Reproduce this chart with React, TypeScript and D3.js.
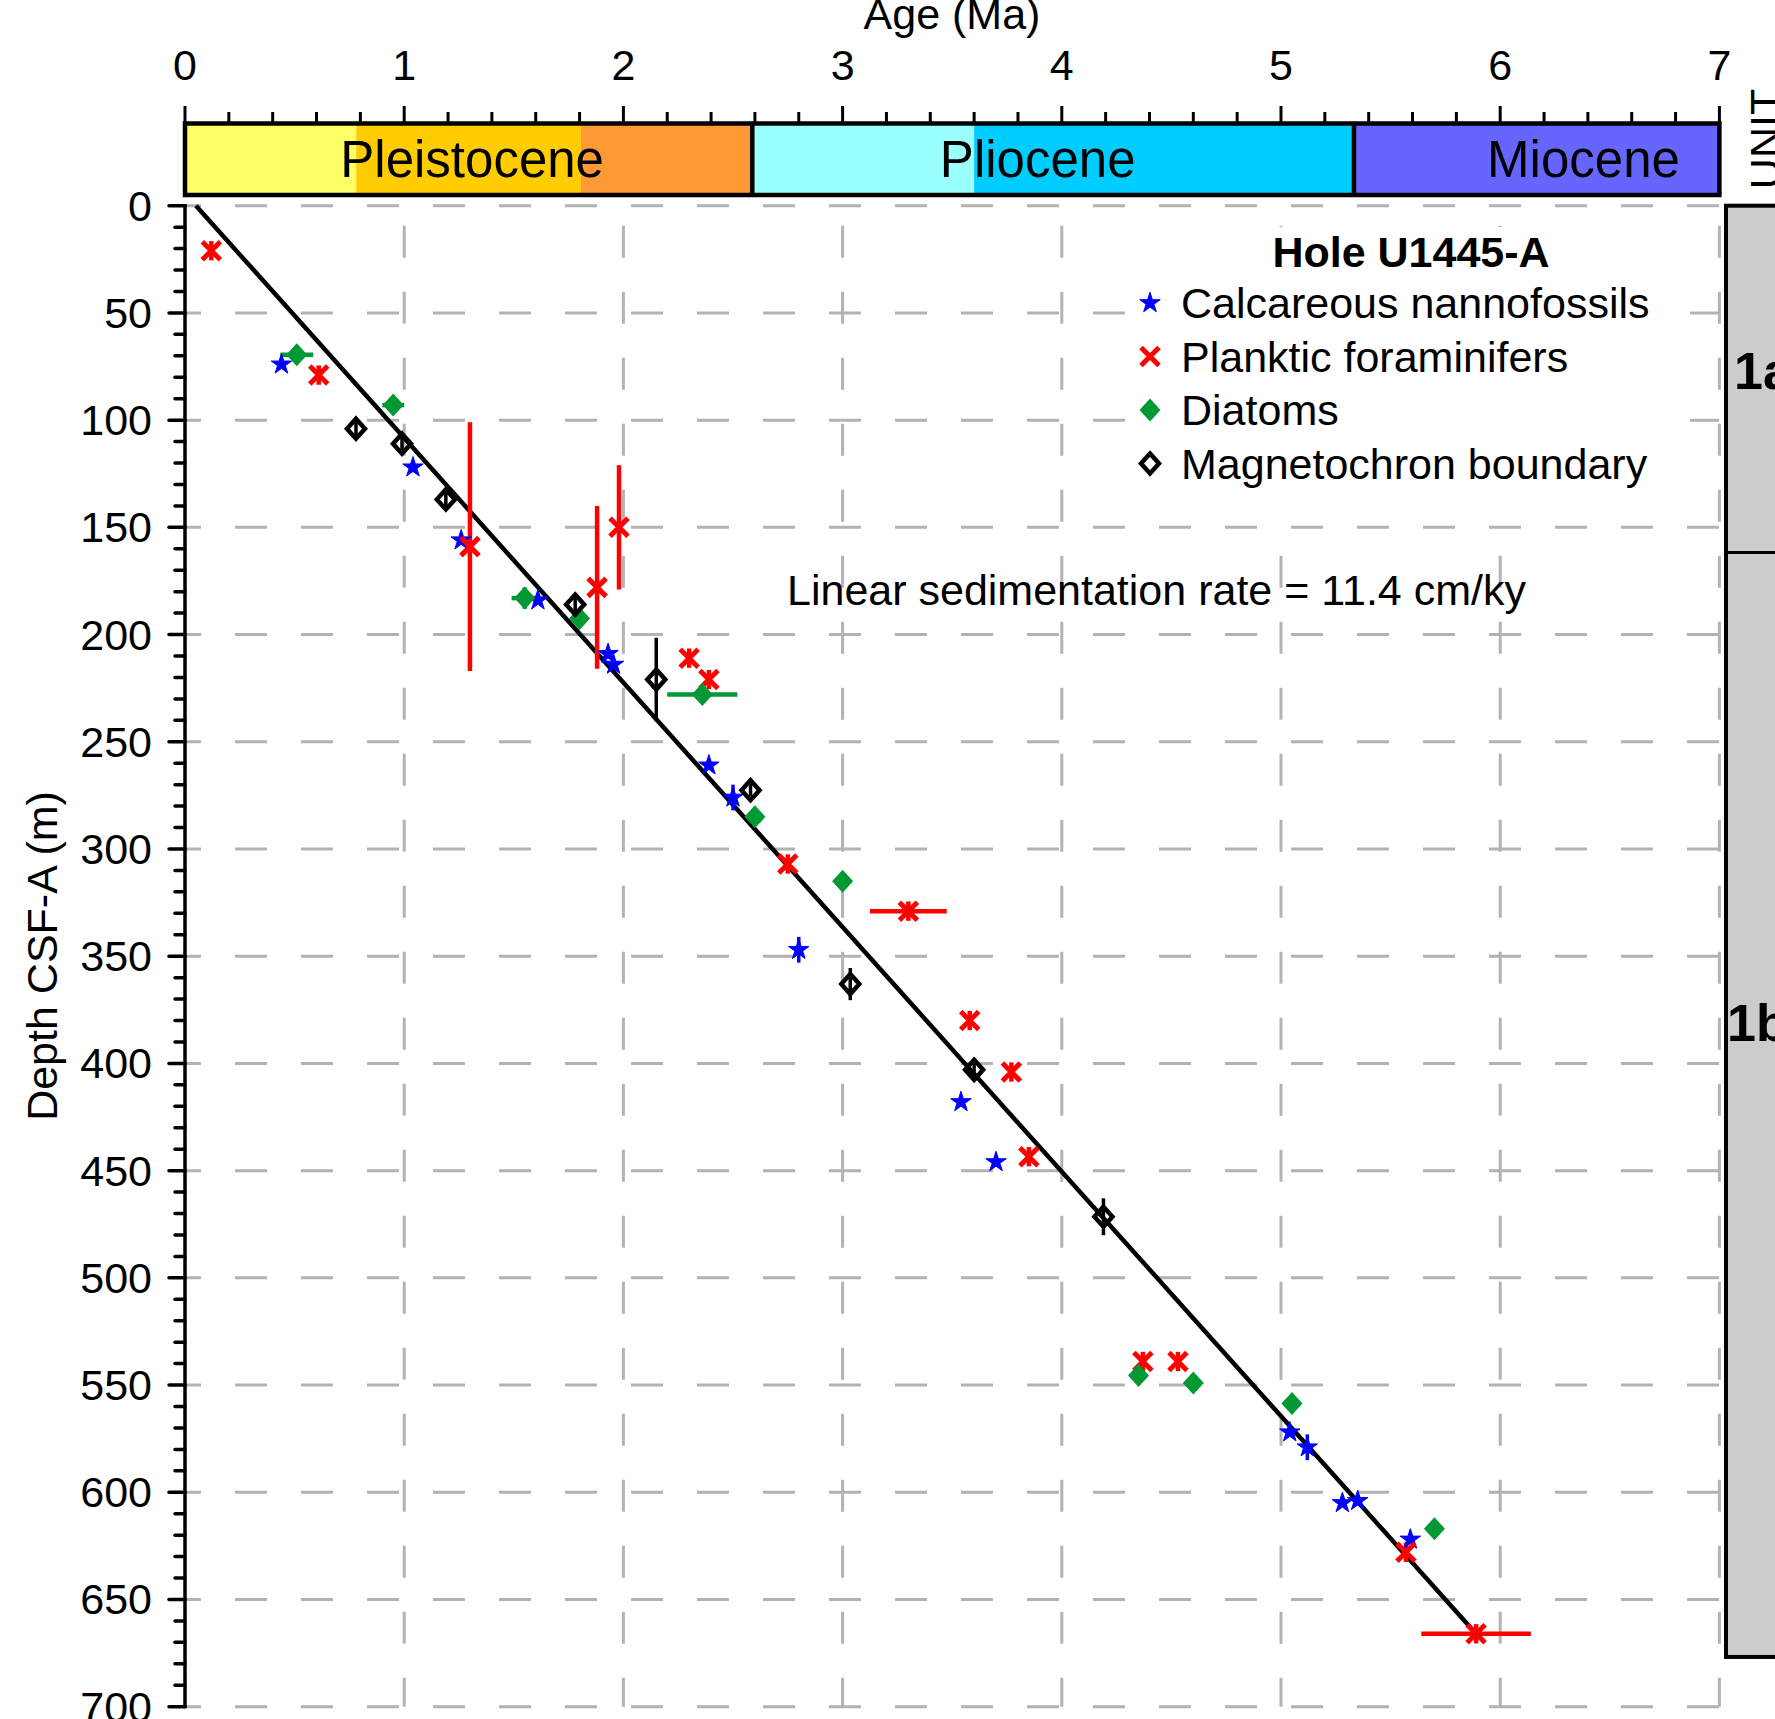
import React from 'react';
import * as d3 from 'd3';

// axis ticks
const ageTicks = [0, 1, 2, 3, 4, 5, 6, 7];
const depthTicks = [0, 50, 100, 150, 200, 250, 300, 350, 400, 450, 500, 550, 600, 650, 700];

// geologic time scale (Ma)
const epochNames = ['Pleistocene', 'Pliocene', 'Miocene'];
const epochBounds = [0, 2.588, 5.333, 7];
const epochLabelAges = [1.31, 3.89, 6.38];
const stageBounds = [0, 0.781, 1.806, 2.588, 3.6, 5.333, 7];

// lithologic units (m)
const unitNames = ['1a', '1b'];
const unitBounds = [0, 161.7, 676.8];

// datums: [age Ma, depth m, age error, depth error]
const nannofossils = [
  [0.44, 74, 0, 0], [1.04, 122, 0, 0], [1.26, 156, 0, 0], [1.61, 184, 0, 0],
  [1.93, 209, 0, 0], [1.955, 214, 0, 0], [2.39, 261, 0, 0], [2.5, 276, 0, 6],
  [2.8, 347, 0, 6], [3.54, 418, 0, 0], [3.7, 446, 0, 0], [5.04, 572, 0, 0],
  [5.12, 579, 0, 6], [5.28, 605, 0, 0], [5.35, 604, 0, 0], [5.59, 622, 0, 0],
];
const foraminifers = [
  [0.12, 21, 0, 4.5], [0.61, 79, 0, 4.5], [1.3, 159, 0, 58], [1.88, 178, 0, 38],
  [1.98, 150, 0, 29], [2.3, 211, 0, 4.5], [2.39, 221, 0, 4.5], [2.75, 307, 0, 4.5],
  [3.3, 329, 0.175, 4.5], [3.58, 380, 0, 4.5], [3.77, 404, 0, 4.5], [3.85, 443.5, 0, 4.5],
  [4.37, 539, 0, 4.5], [4.53, 539, 0, 4.5], [5.57, 628, 0, 4.5], [5.89, 666, 0.25, 4.5],
];
const diatoms = [
  [0.51, 69.5, 0.075, 0], [0.95, 93, 0.05, 0], [1.55, 183, 0.06, 5], [1.8, 192.5, 0, 0],
  [2.36, 228, 0.16, 0], [2.6, 285, 0, 0], [3.0, 315, 0, 0], [4.35, 545.5, 0, 0],
  [4.6, 549, 0, 0], [5.05, 558.6, 0, 0], [5.7, 617, 0, 0],
];
const magnetochrons = [
  [0.78, 104, 0, 3], [0.99, 111, 0, 3], [1.19, 137, 0, 3], [1.78, 186, 0, 3],
  [2.15, 221, 0, 19.5], [2.58, 272.6, 0, 3], [3.035, 363, 0, 7.5], [3.6, 403, 0, 3],
  [4.19, 471.5, 0, 8.6],
];

// linear sedimentation rate line
const lineAges = [0.05, 5.89];
const lineDepths = [0, 666];

const legendLabels = ['Calcareous nannofossils', 'Planktic foraminifers', 'Diatoms', 'Magnetochron boundary'];

const stageColors = ['#ffff66', '#ffcc00', '#ff9933', '#99ffff', '#00ccff', '#6666ff'];
const FONT = '"Liberation Sans", Arial, sans-serif';
const GRID = '#b3b3b3';

const starPath = d3.symbol().type(d3.symbolStar).size(130)() as string;
const crossPath = 'M-9,-9L9,9M-9,9L9,-9';
const diamondPath = 'M0,-11.5L10.5,0L0,11.5L-10.5,0Z';
const openDiamondPath = 'M0,-10L9,0L0,10L-9,0Z';

const series = [
  { data: nannofossils, color: '#0000ff', kind: 'star', errW: 3.5 },
  { data: foraminifers, color: '#ff0000', kind: 'cross', errW: 4.5 },
  { data: diatoms, color: '#009933', kind: 'diamond', errW: 4.5 },
  { data: magnetochrons, color: '#000000', kind: 'open', errW: 3.5 },
];

function Marker({ kind, color, x, y }: { kind: string; color: string; x: number; y: number }) {
  const t = `translate(${x},${y})`;
  if (kind === 'star') return <path d={starPath} transform={t} fill={color} stroke={color} strokeWidth={1} />;
  if (kind === 'cross') return <path d={crossPath} transform={t} stroke={color} strokeWidth={5} fill="none" />;
  if (kind === 'diamond') return <path d={diamondPath} transform={t} fill={color} />;
  return <path d={openDiamondPath} transform={t} stroke={color} strokeWidth={4.5} fill="none" />;
}

export default function App() {
  const W = 1775, H = 1719;
  const x = d3.scaleLinear().domain([0, 7]).range([185, 1719.4]);
  const y = d3.scaleLinear().domain([0, 700]).range([205.7, 1706.7]);
  const barTop = 123.5, barBottom = 195;

  const minorAges = d3.range(0, 7.001, 0.2);
  const minorDepths = d3.range(0, 701, 10);
  const line = d3.line<number>().x((_, i) => x(lineAges[i])).y((_, i) => y(lineDepths[i]));

  return (
    <svg width={W} height={H} style={{ position: 'absolute', left: 0, top: 0 }} fontFamily={FONT}>
      <rect width={W} height={H} fill="#fff" />

      {/* grid */}
      {depthTicks.map(d => (
        <line key={'h' + d} x1={x(0)} x2={x(7)} y1={y(d)} y2={y(d)} stroke={GRID} strokeWidth={3} strokeDasharray="32,34" strokeDashoffset={16} />
      ))}
      {ageTicks.slice(1).map(a => (
        <line key={'v' + a} x1={x(a)} x2={x(a)} y1={y(0)} y2={y(700)} stroke={GRID} strokeWidth={3} strokeDasharray="32,34" strokeDashoffset={46} />
      ))}

      {/* legend background */}
      <rect x={1141} y={227} width={549} height={295} fill="#fff" />

      {/* epoch bar */}
      {stageColors.map((c, i) => (
        <rect key={'s' + i} x={x(stageBounds[i])} y={barTop} width={x(stageBounds[i + 1]) - x(stageBounds[i])} height={barBottom - barTop} fill={c} />
      ))}
      <rect x={x(0)} y={barTop} width={x(7) - x(0)} height={barBottom - barTop} fill="none" stroke="#000" strokeWidth={4.5} />
      {epochBounds.slice(1, -1).map(b => (
        <line key={'eb' + b} x1={x(b)} x2={x(b)} y1={barTop} y2={barBottom} stroke="#000" strokeWidth={4.5} />
      ))}
      {epochNames.map((n, i) => (
        <text key={n} x={x(epochLabelAges[i])} y={176.5} fontSize={51} textAnchor="middle">{n}</text>
      ))}

      {/* top age axis */}
      {minorAges.map(a => {
        const major = Math.abs(a - Math.round(a)) < 1e-6;
        return <line key={'ta' + a.toFixed(1)} x1={x(a)} x2={x(a)} y1={barTop} y2={major ? 106 : 112} stroke="#000" strokeWidth={3} />;
      })}
      {ageTicks.map(a => (
        <text key={'tl' + a} x={x(a)} y={80} fontSize={43} textAnchor="middle">{a}</text>
      ))}
      <text x={952} y={29} fontSize={43} textAnchor="middle">Age (Ma)</text>

      {/* left depth axis */}
      <line x1={x(0)} x2={x(0)} y1={y(0) - 1.5} y2={y(700) + 1.5} stroke="#000" strokeWidth={3.5} />
      {minorDepths.map(d => (
        <line key={'dt' + d} x1={d % 50 === 0 ? 169 : 175} x2={x(0)} y1={y(d)} y2={y(d)} stroke="#000" strokeWidth={3.5} strokeLinecap="round" />
      ))}
      {depthTicks.map(d => (
        <text key={'dl' + d} x={152} y={y(d) + 15} fontSize={43} textAnchor="end">{d}</text>
      ))}
      <text transform="translate(57,956) rotate(-90)" fontSize={43} textAnchor="middle">Depth CSF-A (m)</text>

      {/* lithologic units */}
      <rect x={1726} y={y(unitBounds[0])} width={100} height={y(unitBounds[2]) - y(unitBounds[0])} fill="#cccccc" stroke="#000" strokeWidth={4} />
      <line x1={1726} x2={1800} y1={y(unitBounds[1])} y2={y(unitBounds[1])} stroke="#000" strokeWidth={3} />
      <text x={1734} y={389} fontSize={52} fontWeight="bold">{unitNames[0]}</text>
      <text x={1727} y={1041} fontSize={52} fontWeight="bold">{unitNames[1]}</text>
      <text transform="translate(1780,139) rotate(-90)" fontSize={43} textAnchor="middle">UNIT</text>

      {/* sedimentation rate line */}
      <path d={line([0, 1]) as string} stroke="#000" strokeWidth={4.5} fill="none" />

      {/* error bars */}
      {series.map((s, si) => s.data.map((p, i) => (
        <g key={'e' + si + '-' + i} stroke={s.color} strokeWidth={s.errW}>
          {p[3] > 0 && <line x1={x(p[0])} x2={x(p[0])} y1={y(p[1] - p[3])} y2={y(p[1] + p[3])} />}
          {p[2] > 0 && <line x1={x(p[0] - p[2])} x2={x(p[0] + p[2])} y1={y(p[1])} y2={y(p[1])} />}
        </g>
      )))}

      {/* markers */}
      {series.map((s, si) => s.data.map((p, i) => (
        <Marker key={'m' + si + '-' + i} kind={s.kind} color={s.color} x={x(p[0])} y={y(p[1])} />
      )))}

      {/* legend */}
      <text x={1411} y={267} fontSize={43} fontWeight="bold" textAnchor="middle">Hole U1445-A</text>
      {legendLabels.map((l, i) => (
        <g key={l}>
          <Marker kind={series[i].kind} color={series[i].color} x={1150} y={318 + i * 53.5 - 15} />
          <text x={1181} y={318 + i * 53.5} fontSize={43}>{l}</text>
        </g>
      ))}

      <text x={787} y={605} fontSize={43}>Linear sedimentation rate = 11.4 cm/ky</text>
    </svg>
  );
}
